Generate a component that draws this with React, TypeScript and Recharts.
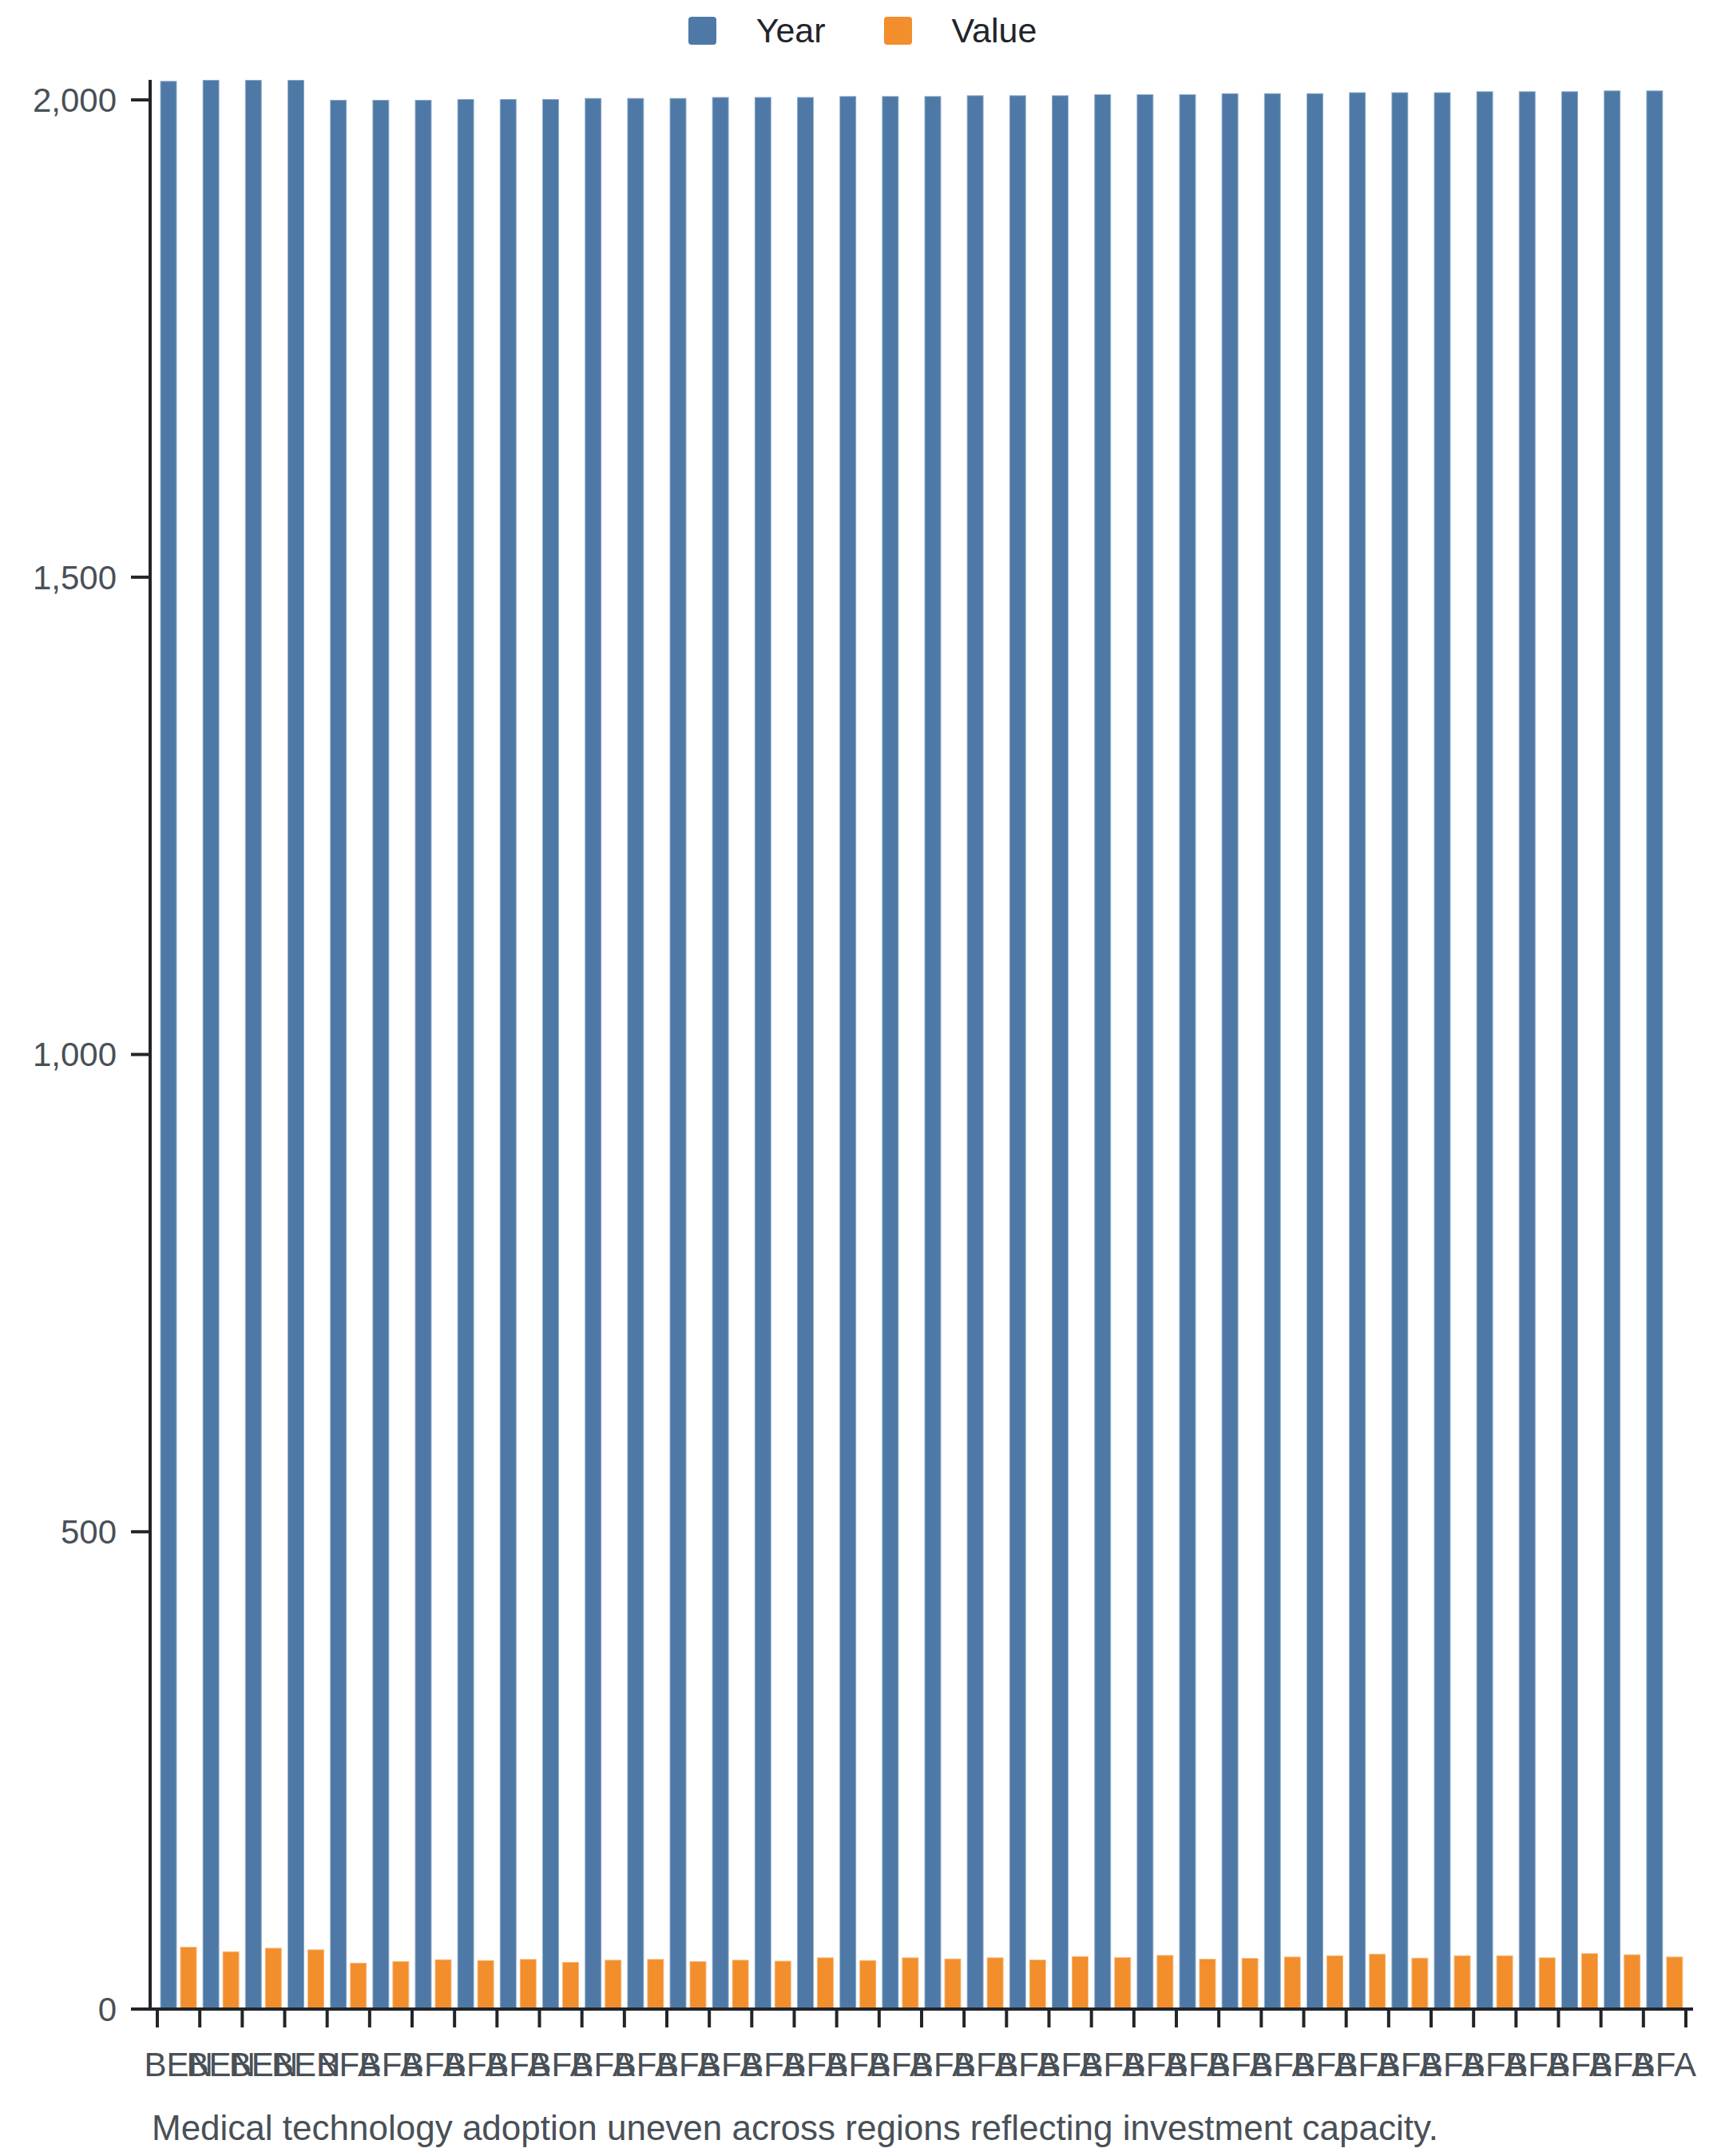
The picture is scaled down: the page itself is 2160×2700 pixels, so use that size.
import React from 'react';
import { BarChart, Bar, XAxis, YAxis, Legend } from 'recharts';

// long-format rows: country code, year, value
const countries = [
  'BEN', 'BEN', 'BEN', 'BEN',
  'BFA', 'BFA', 'BFA', 'BFA', 'BFA', 'BFA', 'BFA', 'BFA',
  'BFA', 'BFA', 'BFA', 'BFA', 'BFA', 'BFA', 'BFA', 'BFA',
  'BFA', 'BFA', 'BFA', 'BFA', 'BFA', 'BFA', 'BFA', 'BFA',
  'BFA', 'BFA', 'BFA', 'BFA', 'BFA', 'BFA', 'BFA', 'BFA',
];

const years = [
  2020, 2021, 2021, 2021,
  2000, 2000, 2000, 2001, 2001, 2001, 2002, 2002,
  2002, 2003, 2003, 2003, 2004, 2004, 2004, 2005,
  2005, 2005, 2006, 2006, 2006, 2007, 2007, 2007,
  2008, 2008, 2008, 2009, 2009, 2009, 2010, 2010,
];

const values = [
  65.2, 60.5, 64.1, 62.5,
  48.5, 50.2, 52.1, 51.3, 52.4, 49.4, 51.6, 52.4,
  50.2, 51.6, 50.7, 54.1, 51.3, 54.1, 53.0, 54.1,
  51.9, 55.5, 54.4, 56.6, 52.7, 53.5, 54.9, 56.3,
  58.0, 53.8, 56.3, 56.3, 54.1, 58.6, 57.2, 54.9,
];

const seriesNames = ['Year', 'Value'];

const yTicks = [0, 500, 1000, 1500, 2000];

const caption =
  'Medical technology adoption uneven across regions reflecting investment capacity.';

const data = countries.map((country, i) => ({
  country,
  Year: years[i],
  Value: values[i],
}));

const FONT = '"Liberation Sans", Arial, Helvetica, sans-serif';
const BLUE = '#4e79a7';
const ORANGE = '#f28e2b';
const AXIS = '#212529';
const MUTED = '#495057';

function CountryTick(props: any) {
  const { x, y, payload, index } = props;
  const half = payload?.offset ?? 26.6;
  const last = index === countries.length - 1;
  return (
    <g>
      <line x1={x - half} x2={x - half} y1={y} y2={y + 23} stroke={AXIS} strokeWidth={4} />
      {last && (
        <line x1={x + half} x2={x + half} y1={y} y2={y + 23} stroke={AXIS} strokeWidth={4} />
      )}
      <text
        x={x}
        y={y + 84}
        textAnchor="middle"
        fill={MUTED}
        fontSize={42}
        fontFamily={FONT}
      >
        {payload.value}
      </text>
    </g>
  );
}

function ChartLegend({ payload }: any) {
  // keep series order, not the alphabetical one
  const items = seriesNames
    .map((name) => (payload || []).find((p: any) => p.value === name))
    .filter(Boolean);
  return (
    <div
      style={{
        height: 76,
        display: 'flex',
        justifyContent: 'center',
        alignItems: 'flex-start',
        fontFamily: FONT,
        fontSize: 43,
        color: AXIS,
      }}
    >
      {items.map((item: any, i: number) => (
        <div
          key={item.value}
          style={{
            display: 'flex',
            alignItems: 'center',
            marginLeft: i === 0 ? 0 : 73,
            height: 76,
          }}
        >
          <span
            style={{
              display: 'inline-block',
              width: 35,
              height: 35,
              borderRadius: 4,
              background: item.color,
              marginRight: 50,
            }}
          />
          <span style={{ lineHeight: '43px' }}>{item.value}</span>
        </div>
      ))}
    </div>
  );
}

export default function App() {
  return (
    <div style={{ position: 'absolute', left: 0, top: 0, width: 2160, height: 2700, background: '#fff' }}>
      <BarChart
        width={2160}
        height={2620}
        data={data}
        margin={{ top: 24, right: 40, bottom: 0, left: 0 }}
        barCategoryGap={3.5}
        barGap={4}
      >
        <Legend
          verticalAlign="top"
          align="center"
          content={<ChartLegend />}
          wrapperStyle={{ top: 0, left: 0, width: 2160 }}
        />
        <XAxis
          dataKey="country"
          interval={0}
          padding={{ left: 9, right: 9 }}
          height={104}
          tickSize={0}
          tickMargin={0}
          tickLine={false}
          axisLine={{ stroke: AXIS, strokeWidth: 4 }}
          tick={<CountryTick />}
        />
        <YAxis
          width={188}
          domain={[0, 'dataMax']}
          ticks={yTicks}
          tickFormatter={(v: number) => v.toLocaleString('en-US')}
          tickSize={24}
          tickMargin={18}
          axisLine={{ stroke: AXIS, strokeWidth: 4 }}
          tickLine={{ stroke: AXIS, strokeWidth: 4 }}
          tick={{ fill: MUTED, fontSize: 42, fontFamily: FONT }}
        />
        <Bar dataKey="Year" fill={BLUE} stroke="#ffffff" strokeOpacity={0.4} strokeWidth={2} isAnimationActive={false} />
        <Bar dataKey="Value" fill={ORANGE} stroke="#ffffff" strokeOpacity={0.4} strokeWidth={2} isAnimationActive={false} />
      </BarChart>
      <div
        style={{
          position: 'absolute',
          left: 190,
          top: 2643,
          fontFamily: FONT,
          fontSize: 44,
          lineHeight: '44px',
          color: MUTED,
          whiteSpace: 'nowrap',
        }}
      >
        {caption}
      </div>
    </div>
  );
}
